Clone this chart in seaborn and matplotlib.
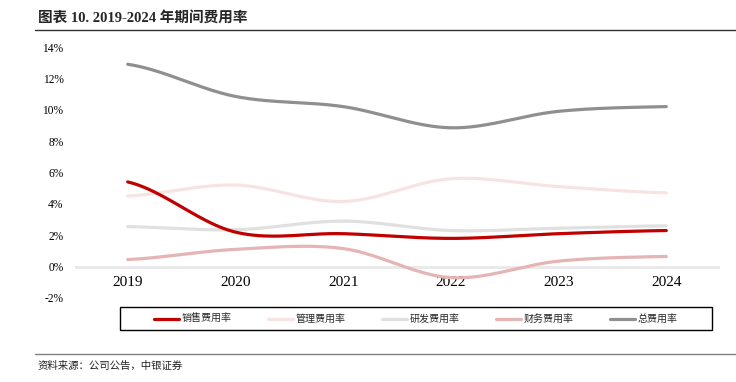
import numpy as np
import pandas as pd
import matplotlib
matplotlib.use("Agg")
import matplotlib.pyplot as plt
import seaborn as sns
from matplotlib.lines import Line2D
from matplotlib.patches import Rectangle

# ---- data (%) ----
YEARS = ["2019", "2020", "2021", "2022", "2023", "2024"]
SALES = [5.4, 2.2, 2.1, 1.8, 2.1, 2.3]        # 销售费用率
ADMIN = [4.5, 5.2, 4.15, 5.6, 5.1, 4.7]       # 管理费用率
RND = [2.55, 2.35, 2.9, 2.3, 2.45, 2.6]       # 研发费用率
FIN = [0.45, 1.1, 1.15, -0.7, 0.35, 0.65]     # 财务费用率
TOTAL = [12.9, 10.85, 10.2, 8.85, 9.9, 10.2]  # 总费用率

SERIES_NAMES = ["销售费用率", "管理费用率", "研发费用率", "财务费用率", "总费用率"]
COLORS = ["#C00000", "#F8E3E3", "#E0E0E0", "#E5B4B4", "#8F8F8F"]
Y_TICKS = [-2, 0, 2, 4, 6, 8, 10, 12, 14]

CJK = ["Liberation Serif", "Noto Sans CJK SC", "DejaVu Sans"]


def smooth(ys, n=40):
    """Catmull-Rom style smoothing, like Excel's 'smoothed line'."""
    p = np.array(ys, dtype=float)
    p = np.concatenate([[p[0]], p, [p[-1]]])
    xs_out, ys_out = [], []
    for i in range(1, len(p) - 2):
        t = np.linspace(0, 1, n, endpoint=False)
        p0, p1, p2, p3 = p[i - 1], p[i], p[i + 1], p[i + 2]
        y = 0.5 * ((2 * p1) + (-p0 + p2) * t
                   + (2 * p0 - 5 * p1 + 4 * p2 - p3) * t ** 2
                   + (-p0 + 3 * p1 - 3 * p2 + p3) * t ** 3)
        xs_out.extend(i - 1 + t)
        ys_out.extend(y)
    xs_out.append(len(ys) - 1)
    ys_out.append(ys[-1])
    return np.array(xs_out), np.array(ys_out)


sns.set_theme(style="white")
plt.rcParams["font.family"] = CJK

fig = plt.figure(figsize=(7.36, 3.82), dpi=100)
ax = fig.add_axes([76 / 736, 1 - 298 / 382, 642 / 736, 251 / 382])

all_series = [SALES, ADMIN, RND, FIN, TOTAL]
zorders = [6, 2, 3, 4, 5]
for name, vals, col, z in zip(SERIES_NAMES, all_series, COLORS, zorders):
    xs, ys = smooth(vals)
    df = pd.DataFrame({"x": xs, "y": ys})
    sns.lineplot(data=df, x="x", y="y", ax=ax, color=col, linewidth=2.3,
                 estimator=None, sort=False, legend=False, zorder=z)

ax.set_xlim(-0.48, len(YEARS) - 1 + 0.48)
ax.set_ylim(-2, 14)
ax.set_yticks(Y_TICKS)
ax.set_yticklabels([f"{v}%" for v in Y_TICKS], fontfamily="Liberation Serif", fontsize=8.3)
ax.set_xticks(range(len(YEARS)))
ax.set_xticklabels(YEARS, fontfamily="Liberation Serif", fontsize=8)
ax.set_xlabel("")
ax.set_ylabel("")

# category axis sits on y = 0
ax.spines["bottom"].set_position(("data", 0))
ax.spines["bottom"].set_color("#E8E8E8")
ax.spines["bottom"].set_linewidth(2)
for s in ["left", "right", "top"]:
    ax.spines[s].set_visible(False)
ax.tick_params(axis="x", length=0, pad=6.5, colors="#000000")
ax.tick_params(axis="y", length=0, pad=9, colors="#000000")

# legend box drawn separately, entries centred inside it
fig.add_artist(Rectangle((120 / 736, 1 - 330 / 382), 592 / 736, 23 / 382,
                         transform=fig.transFigure, fill=False,
                         edgecolor="#000000", linewidth=1.0))
handles = [Line2D([0], [0], color=c, linewidth=2.3) for c in COLORS]
fig.legend(handles, SERIES_NAMES, loc="center", ncol=5,
           bbox_to_anchor=(416 / 736, 1 - 319 / 382),
           frameon=False,
           prop={"family": ["Noto Sans CJK SC"], "size": 7.2},
           handlelength=2.5, handletextpad=0.3, columnspacing=3.6)

# title, rules and source
fig.text(38 / 736, 1 - 18 / 382, "图表 10. 2019-2024 年期间费用率",
         fontsize=10.5, fontweight="bold", va="center", ha="left", family=CJK)
fig.add_artist(Line2D([35 / 736, 1], [1 - 30 / 382, 1 - 30 / 382],
                      color="#333333", linewidth=1.0))
fig.add_artist(Line2D([35 / 736, 1], [1 - 354 / 382, 1 - 354 / 382],
                      color="#808080", linewidth=1.0))
fig.text(38 / 736, 1 - 366 / 382, "资料来源：公司公告，中银证券",
         fontsize=7.5, va="center", ha="left", color="#222222",
         family=["Noto Sans CJK SC"], style="italic")

fig.savefig("out.png", dpi=100)
